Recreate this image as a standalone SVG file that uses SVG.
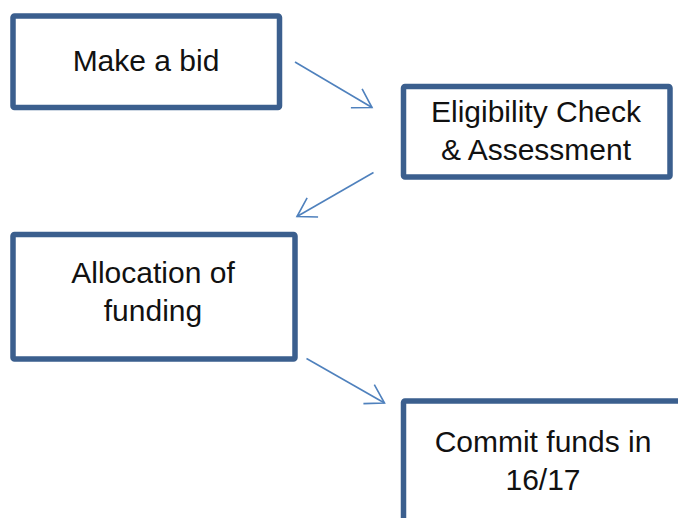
<svg xmlns="http://www.w3.org/2000/svg" width="678" height="518" viewBox="0 0 678 518">
  <style>
    .box { fill: #ffffff; stroke: #3B5F8E; stroke-width: 5.5; stroke-linejoin: round; }
    .label { font-family: "Liberation Sans", Arial, sans-serif; font-size: 30px; fill: #111111; text-anchor: middle; }
    .conn { fill: none; stroke: #4F81BD; stroke-width: 1.6; }
  </style>
  <defs>
    <marker id="open-arrow" markerUnits="userSpaceOnUse" markerWidth="26" markerHeight="26" viewBox="-22 -13 24 26" refX="0" refY="0" orient="auto">
      <path d="M -18 -11 L 0 0 L -18 11" fill="none" stroke="#4F81BD" stroke-width="1.6"/>
    </marker>
  </defs>

  <rect width="678" height="518" fill="#ffffff"/>

  <g id="node-bid">
    <rect class="box" x="13" y="16" width="266.5" height="91.5" rx="1.5"/>
    <text class="label" x="146" y="71">Make a bid</text>
  </g>

  <g id="node-eligibility">
    <rect class="box" x="403.5" y="86.5" width="266.5" height="90.5" rx="1.5"/>
    <text class="label" x="536" y="122">Eligibility Check</text>
    <text class="label" x="536" y="160">&amp; Assessment</text>
  </g>

  <g id="node-allocation">
    <rect class="box" x="13" y="234.5" width="282" height="124.5" rx="1.5"/>
    <text class="label" x="153" y="283">Allocation of</text>
    <text class="label" x="153" y="321">funding</text>
  </g>

  <g id="node-commit">
    <rect class="box" x="403.5" y="401" width="290" height="140" rx="1.5"/>
    <text class="label" x="543" y="452">Commit funds in</text>
    <text class="label" x="543" y="490">16/17</text>
  </g>

  <g id="connectors">
    <line class="conn" x1="295" y1="62" x2="372" y2="107.5" marker-end="url(#open-arrow)"/>
    <line class="conn" x1="373.5" y1="172.5" x2="297" y2="216.5" marker-end="url(#open-arrow)"/>
    <line class="conn" x1="306.5" y1="358.5" x2="384.5" y2="403" marker-end="url(#open-arrow)"/>
  </g>
</svg>
